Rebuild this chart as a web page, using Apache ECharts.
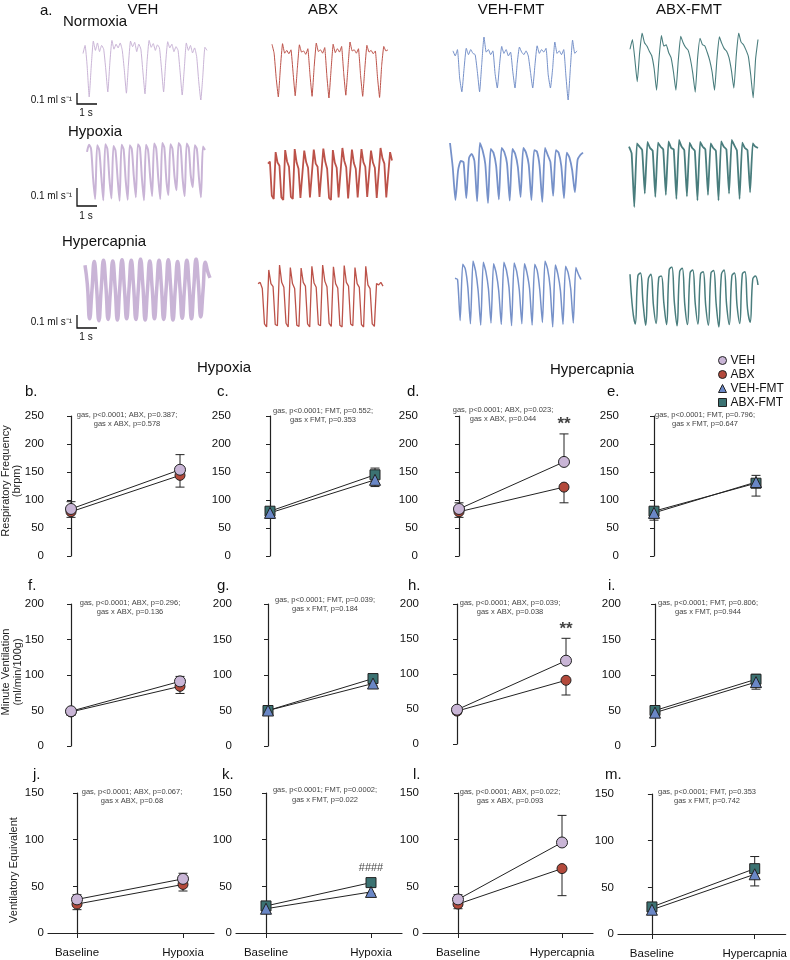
<!DOCTYPE html>
<html><head><meta charset="utf-8">
<script src="https://cdn.jsdelivr.net/npm/echarts@6/dist/echarts.min.js"></script>
<style>html,body{margin:0;padding:0;background:#fff}#c{width:790px;height:960px}</style>
</head><body><div id="c"></div>
<script>
// ---------------- DATA ----------------
const groupsAll = ['VEH', 'ABX', 'VEH-FMT', 'ABX-FMT'];
const catsHypoxia = ['Baseline', 'Hypoxia'];
const catsHypercapnia = ['Baseline', 'Hypercapnia'];
const yTicksRF = [0, 50, 100, 150, 200, 250];
const yTicksMV = [0, 50, 100, 150, 200];
const yTicksVE = [0, 50, 100, 150];

// Respiratory frequency (brpm) [Baseline, gas]; errors signed (+ up, - down)
const rfHxVEH = [84, 154],  rfHxVEHerr = [13, 27];
const rfHxABX = [79, 144],  rfHxABXerr = [-10, -21];
const rfHxVF  = [77, 136],  rfHxVFerr  = [-10, -12];
const rfHxAF  = [80, 145],  rfHxAFerr  = [7, 12];
const rfHcVEH = [84, 168],  rfHcVEHerr = [11, 50];
const rfHcABX = [79, 123],  rfHcABXerr = [-10, -28];
const rfHcVF  = [77, 132],  rfHcVFerr  = [-13, -25];
const rfHcAF  = [80, 130],  rfHcAFerr  = [7, 14];
// Minute ventilation (ml/min/100g)
const mvHxVEH = [49, 91],   mvHxVEHerr = [3, 7];
const mvHxABX = [48, 84],   mvHxABXerr = [-5, -10];
const mvHxVF  = [50, 88],   mvHxVFerr  = [-3, -3];
const mvHxAF  = [50, 95],   mvHxAFerr  = [3, 3];
const mvHcVEH = [49, 119],  mvHcVEHerr = [3, 32];
const mvHcABX = [47, 91],   mvHcABXerr = [-4, -21];
const mvHcVF  = [47, 90],   mvHcVFerr  = [-3, -10];
const mvHcAF  = [50, 94],   mvHcAFerr  = [3, 7];
// Ventilatory equivalent
const veHxVEH = [36, 58],   veHxVEHerr = [5, 6];
const veHxABX = [31, 52],   veHxABXerr = [-6, -7];
const veHxVF  = [26, 44],   veHxVFerr  = [-2, -2];
const veHxAF  = [29, 54],   veHxAFerr  = [2, 2];
const veHcVEH = [36, 97],   veHcVEHerr = [5, 29];
const veHcABX = [31, 69],   veHcABXerr = [-5, -29];
const veHcVF  = [26, 64],   veHcVFerr  = [-2, -12.5];
const veHcAF  = [29, 70],   veHcAFerr  = [2, 13];

const statTexts = [
  'gas, p<0.0001; ABX, p=0.387;\ngas x ABX, p=0.578',
  'gas, p<0.0001; FMT, p=0.552;\ngas x FMT, p=0.353',
  'gas, p<0.0001; ABX, p=0.023;\ngas x ABX, p=0.044',
  'gas, p<0.0001; FMT, p=0.796;\ngas x FMT, p=0.647',
  'gas, p<0.0001; ABX, p=0.296;\ngas x ABX, p=0.136',
  'gas, p<0.0001; FMT, p=0.039;\ngas x FMT, p=0.184',
  'gas, p<0.0001; ABX, p=0.039;\ngas x ABX, p=0.038',
  'gas, p<0.0001; FMT, p=0.806;\ngas x FMT, p=0.944',
  'gas, p<0.0001; ABX, p=0.067;\ngas x ABX, p=0.68',
  'gas, p<0.0001; FMT, p=0.0002;\ngas x FMT, p=0.022',
  'gas, p<0.0001; ABX, p=0.022;\ngas x ABX, p=0.093',
  'gas, p<0.0001; FMT, p=0.353\ngas x FMT, p=0.742'
];

// Flow traces (relative amplitude 0-100, read from the recordings)
const trNormVEH = [75,88,55,5, 55,95,80,92,78,88,82,50,13, 60,96,82,90,84,92,80,48,11, 58,95,86,93,78,90,82,45,10, 62,96,85,91,80,89,84,50,13, 60,94,84,90,78,86,80,45,8, 50,92,80,88,76,84,70,30,0, 40,85,80];
const trNormABX = [96,80,35,2, 55,97,80,85,79,86,45,4, 52,95,82,84,78,88,42,3, 56,98,83,86,80,90,40,0, 50,96,81,88,82,92,44,5, 54,100,84,86,80,88,40,3, 52,94,82,85,79,84,38,1, 58,92,84,86];
const trNormVF  = [78,70,80,35,13, 50,82,72,80,74,72,45,13, 58,100,76,80,72,78,42,19, 55,85,74,80,70,76,45,19, 58,84,76,72,78,70,44,19, 55,86,74,80,76,82,40,19, 50,92,74,78,72,80,38,0, 50,95,74,78];
const trNormAF  = [75,90,60,25, 70,100,85,80,72,65,45,12, 60,96,80,82,70,62,40,12, 58,95,85,78,74,60,38,9, 62,92,82,80,70,58,40,12, 60,94,84,76,72,62,42,15, 65,100,86,82,74,64,35,0, 60,90];
const trHypoVEH = [85, 97,90,40,5, 96,88,45,3, 98,90,40,6, 95,87,42,2, 97,89,38,4, 96,90,44,8, 98,92,40,3, 97,88,45,10, 99,91,42,5, 100,92,38,12, 98,90,44,20, 100,94,40,10, 99,92,45,25, 96,90,42,8, 94,88];
const trHypoABX = [70,74, 8,2,92,72,66, 5,0,96,74,64, 6,2,98,72,60, 4,1,95,73,62, 5,2,97,70,64, 6,3,99,74,60, 4,0,96,72,62, 5,2,100,75,63, 3,1,97,71,60, 5,2,98,73,64, 6,3,95,72,62, 4,1,100,80,70, 5,2,92,76];
const trHypoVF  = [100,60,5,55, 70,68,8,75, 82,70,3,100, 88,65,0,90, 84,62,6,92, 85,66,4,90, 82,60,10,92, 84,64,5,88, 86,62,2,92, 80,68,12,88, 84,62,8,84, 76,55,18,72, 80,84];
const trHypoAF  = [90,80,0, 95,90,85,20, 97,88,84,15, 96,90,86,18, 98,88,86,12, 100,90,85,16, 96,88,84,10, 97,90,86,18, 95,88,84,10, 98,90,86,20, 100,92,84,12, 96,88,85,22, 95,90,88];
const trHcVEH   = [90,60,5,50, 96,55,2,52, 98,58,4,50, 97,56,3,54, 99,55,5,52, 98,56,4,50, 100,58,3,52, 97,55,5,54, 98,57,4,50, 99,56,3,52, 96,55,6,54, 98,57,5,55, 100,60,8,50, 95,80,70];
const trHcABX   = [70,72,62,5,0, 92,70,65,4,2, 100,72,64,6,0, 96,70,62,3,1, 95,72,66,5,0, 98,71,64,4,2, 100,74,65,6,1, 97,70,63,3,0, 99,72,66,5,2, 96,70,64,4,0, 98,68,62,5,1, 70,68,72,66];
const trHcVF    = [74,72,10, 95,88,60,5, 100,85,55,3, 98,84,58,6, 96,82,55,4, 98,86,60,2, 97,84,56,5, 96,82,58,3, 95,85,55,7, 100,88,60,0, 94,80,55,4, 92,82,58,6, 90,80,72];
const trHcAF    = [88,30,5, 85,90,40,3, 80,88,35,6, 82,85,38,4, 95,100,40,2, 92,98,36,4, 90,95,38,5, 88,92,35,3, 90,94,38,0, 88,95,36,4, 85,90,35,6, 88,92,30,8, 80,85,70];

// ---------------- STYLE / LAYOUT ----------------
const FONT = '"Liberation Sans", Arial, Helvetica, sans-serif';
const COL = {'VEH':'#c9b5d6','ABX':'#b3493b','VEH-FMT':'#6a87c6','ABX-FMT':'#3b7272'};
const TRCOL = {'VEH':'#c6b0d4','ABX':'#b8493f','VEH-FMT':'#6f8bc6','ABX-FMT':'#3f7676'};
const SYM = {'VEH':'circle','ABX':'circle','VEH-FMT':'triangle','ABX-FMT':'rect'};
const SIZE = {'VEH':11,'ABX':10,'VEH-FMT':11,'ABX-FMT':10};

const grid=[], xAxis=[], yAxis=[], series=[], graphic=[];

function addTrace(data, box, color, lw, smooth){
  const i = grid.length;
  grid.push({left:box[0], top:box[1], width:box[2]-box[0], height:box[3]-box[1]});
  xAxis.push({type:'category', gridIndex:i, show:false, boundaryGap:false, data:data.map((_,k)=>String(k))});
  yAxis.push({type:'value', gridIndex:i, show:false, min:0, max:100, splitLine:{show:false}});
  series.push({type:'line', xAxisIndex:i, yAxisIndex:i, data:data, symbol:'none', silent:true, smooth:smooth||false,
    lineStyle:{color:color, width:lw, opacity:0.95}});
}

const traceRows = [
  {data:[trNormVEH, trNormABX, trNormVF, trNormAF],
   boxes:[[83,38,207,100],[272,42,388,98],[453,37,577,100],[630,33,758,98]], lw:[1,1,1,1.1], sm:[0.15,0.1,0.15,0.15]},
  {data:[trHypoVEH, trHypoABX, trHypoVF, trHypoAF],
   boxes:[[87,143,205,202],[268,148,392,200],[450,143,583,203],[629,140,758,207]], lw:[2,1.8,1.8,1.8], sm:[0.25,0,0.2,0.1]},
  {data:[trHcVEH, trHcABX, trHcVF, trHcAF],
   boxes:[[85,259,210,322],[258,265,383,327],[455,261,581,327],[630,267,758,327]], lw:[3.5,1.3,1.5,1.5], sm:[0.5,0,0.2,0.4]}
];
traceRows.forEach(r => r.data.forEach((d,k) => addTrace(d, r.boxes[k], TRCOL[groupsAll[k]], r.lw[k], r.sm[k])));

function errRender(params, api){
  const p0 = api.coord([api.value(0), api.value(1)]);
  const p1 = api.coord([api.value(0), api.value(2)]);
  return {type:'group', children:[
    {type:'line', shape:{x1:p0[0],y1:p0[1],x2:p1[0],y2:p1[1]}, style:{stroke:'#222',lineWidth:1}},
    {type:'line', shape:{x1:p1[0]-4.5,y1:p1[1],x2:p1[0]+4.5,y2:p1[1]}, style:{stroke:'#222',lineWidth:1}}
  ]};
}

function addPanel(p){
  const i = grid.length;
  const span = p.hyp - p.base;
  const xmin = -(p.base - p.axisX)/span;
  const xmax = 1 + 31/span;
  const ticks = p.ticks;
  const ymax = ticks[ticks.length-1];
  grid.push({left:p.axisX, top:p.top, width:(xmax-xmin)*span, height:p.height});
  xAxis.push({type:'value', gridIndex:i, min:xmin, max:xmax, show:p.showX,
    axisLine:{show:true, onZero:false, lineStyle:{color:'#222', width:1.2}},
    axisTick:{show:true, customValues:[0,1], length:5, lineStyle:{color:'#222'}},
    axisLabel:{show:true, customValues:[0,1], formatter:(v)=>p.cats[Math.round(v)], fontSize:11.5, color:'#111', margin:14, fontFamily:FONT},
    splitLine:{show:false}});
  yAxis.push({type:'value', gridIndex:i, min:0, max:ymax, interval:50,
    axisLine:{show:true, lineStyle:{color:'#222', width:1.2}},
    axisTick:{show:true, length:4, lineStyle:{color:'#222'}},
    axisLabel:{fontSize:11.5, color:'#111', margin:4, fontFamily:FONT},
    splitLine:{show:false}});
  p.groups.forEach(g => {
    series.push({type:'custom', xAxisIndex:i, yAxisIndex:i, silent:true, z:2,
      encode:{x:0, y:[1,2]},
      data:g.mean.map((m,k)=>[k, m, m + g.err[k]]), renderItem:errRender});
    series.push({type:'line', name:g.name, xAxisIndex:i, yAxisIndex:i, z:3, silent:true,
      data:g.mean.map((m,k)=>[k, m]), symbol:SYM[g.name], symbolSize:SIZE[g.name],
      itemStyle:{color:COL[g.name], borderColor:'#222', borderWidth:1},
      lineStyle:{color:'#222', width:1}});
  });
  if (p.mark){
    series.push({type:'scatter', xAxisIndex:i, yAxisIndex:i, z:4, silent:true, symbolSize:0,
      data:[[1, p.mark.at]],
      label:{show:true, formatter:p.mark.text, position:'top', distance:p.mark.dist,
        fontSize:p.mark.size, fontWeight:p.mark.weight, color:'#111', fontFamily:FONT}});
  }
}

const panels = [
  // row 1: respiratory frequency
  {axisX:48,  base:71,  hyp:180, top:416, height:140, ticks:yTicksRF, cats:catsHypoxia, showX:false,
    groups:[{name:'ABX',mean:rfHxABX,err:rfHxABXerr},{name:'VEH',mean:rfHxVEH,err:rfHxVEHerr}]},
  {axisX:235, base:270, hyp:375, top:416, height:140, ticks:yTicksRF, cats:catsHypoxia, showX:false,
    groups:[{name:'ABX-FMT',mean:rfHxAF,err:rfHxAFerr},{name:'VEH-FMT',mean:rfHxVF,err:rfHxVFerr}]},
  {axisX:422, base:459, hyp:564, top:416, height:140, ticks:yTicksRF, cats:catsHypercapnia, showX:false,
    groups:[{name:'ABX',mean:rfHcABX,err:rfHcABXerr},{name:'VEH',mean:rfHcVEH,err:rfHcVEHerr}],
    mark:{text:'**', at:rfHcVEH[1]+rfHcVEHerr[1], dist:1, size:17, weight:'bold'}},
  {axisX:623, base:654, hyp:756, top:416, height:140, ticks:yTicksRF, cats:catsHypercapnia, showX:false,
    groups:[{name:'ABX-FMT',mean:rfHcAF,err:rfHcAFerr},{name:'VEH-FMT',mean:rfHcVF,err:rfHcVFerr}]},
  // row 2: minute ventilation
  {axisX:48,  base:71,  hyp:180, top:604, height:142, ticks:yTicksMV, cats:catsHypoxia, showX:false,
    groups:[{name:'ABX',mean:mvHxABX,err:mvHxABXerr},{name:'VEH',mean:mvHxVEH,err:mvHxVEHerr}]},
  {axisX:236, base:268, hyp:373, top:604, height:142, ticks:yTicksMV, cats:catsHypoxia, showX:false,
    groups:[{name:'ABX-FMT',mean:mvHxAF,err:mvHxAFerr},{name:'VEH-FMT',mean:mvHxVF,err:mvHxVFerr}]},
  {axisX:423, base:457, hyp:566, top:604, height:140, ticks:yTicksMV, cats:catsHypercapnia, showX:false,
    groups:[{name:'ABX',mean:mvHcABX,err:mvHcABXerr},{name:'VEH',mean:mvHcVEH,err:mvHcVEHerr}],
    mark:{text:'**', at:mvHcVEH[1]+mvHcVEHerr[1], dist:0, size:17, weight:'bold'}},
  {axisX:625, base:655, hyp:756, top:604, height:142, ticks:yTicksMV, cats:catsHypercapnia, showX:false,
    groups:[{name:'ABX-FMT',mean:mvHcAF,err:mvHcAFerr},{name:'VEH-FMT',mean:mvHcVF,err:mvHcVFerr}]},
  // row 3: ventilatory equivalent
  {axisX:48,  base:77,  hyp:183, top:793, height:140, ticks:yTicksVE, cats:catsHypoxia, showX:true,
    groups:[{name:'ABX',mean:veHxABX,err:veHxABXerr},{name:'VEH',mean:veHxVEH,err:veHxVEHerr}]},
  {axisX:236, base:266, hyp:371, top:793, height:140, ticks:yTicksVE, cats:catsHypoxia, showX:true,
    groups:[{name:'ABX-FMT',mean:veHxAF,err:veHxAFerr},{name:'VEH-FMT',mean:veHxVF,err:veHxVFerr}],
    mark:{text:'####', at:veHxAF[1], dist:9, size:11, weight:'normal'}},
  {axisX:423, base:458, hyp:562, top:793, height:140, ticks:yTicksVE, cats:catsHypercapnia, showX:true,
    groups:[{name:'ABX',mean:veHcABX,err:veHcABXerr},{name:'VEH',mean:veHcVEH,err:veHcVEHerr}]},
  {axisX:618, base:652, hyp:755, top:794, height:140, ticks:yTicksVE, cats:catsHypercapnia, showX:true,
    groups:[{name:'ABX-FMT',mean:veHcAF,err:veHcAFerr},{name:'VEH-FMT',mean:veHcVF,err:veHcVFerr}]}
];
panels.forEach(addPanel);

// ---------------- TEXT ----------------
function txt(text, x, y, size, opts){
  opts = opts || {};
  const align = opts.align || 'left';
  const valign = opts.valign || 'middle';
  graphic.push({type:'text', x:x, y:y, rotation:opts.rot||0, silent:true, z:10,
    style:{text:text, fill:opts.color||'#111', fontSize:size, fontFamily:FONT, fontWeight:opts.weight||'normal',
      align:align, textAlign:align, verticalAlign:valign, textVerticalAlign:valign, lineHeight:opts.lh||size*1.2}});
}
txt('a.', 40, 11, 15);
txt('VEH', 143, 10, 15, {align:'center'});
txt('ABX', 323, 10, 15, {align:'center'});
txt('VEH-FMT', 511, 10, 15, {align:'center'});
txt('ABX-FMT', 689, 10, 15, {align:'center'});
txt('Normoxia', 63, 22, 15);
txt('Hypoxia', 68, 132, 15);
txt('Hypercapnia', 62, 242, 15);

// scale bars
[[93,104,100,113],[188,206,196,216],[315,328,322,337]].forEach(s => {
  graphic.push({type:'polyline', silent:true, shape:{points:[[77,s[0]],[77,s[1]],[97,s[1]]]}, style:{stroke:'#111', lineWidth:1.3, fill:null}});
  txt('0.1 ml s\u207B\u00B9', 72, s[2], 10, {align:'right'});
  txt('1 s', 86, s[3], 10, {align:'center'});
});

txt('Hypoxia', 224, 368, 15, {align:'center'});
txt('Hypercapnia', 592, 370, 15, {align:'center'});

const letters = [['b.',25,392],['c.',217,392],['d.',407,392],['e.',607,392],
  ['f.',28,586],['g.',217,586],['h.',408,586],['i.',608,586],
  ['j.',33,775],['k.',222,775],['l.',413,775],['m.',605,775]];
letters.forEach(l => txt(l[0], l[1], l[2], 15));

const statPos = [[127,419.5],[323,415.5],[503,414.5],[705,419.5],
  [130,607.5],[325,604.5],[510,607.5],[708,607.5],
  [132,796.5],[325,795],[510,796.5],[707,796.5]];
statTexts.forEach((t,k) => txt(t, statPos[k][0], statPos[k][1], 7.5, {align:'center', color:'#444', lh:9.5}));

txt('Respiratory Frequency\n(brpm)', 11, 481, 11, {align:'center', rot:Math.PI/2, color:'#222', lh:11});
txt('Minute Ventilation\n(ml/min/100g)', 12, 672, 11, {align:'center', rot:Math.PI/2, color:'#222', lh:12});
txt('Ventilatory Equivalent', 14, 870, 11, {align:'center', rot:Math.PI/2, color:'#222'});

const option = {
  animation:false,
  backgroundColor:'#fff',
  grid, xAxis, yAxis, series, graphic,
  legend:{
    data:[{name:'VEH',icon:'circle'},{name:'ABX',icon:'circle'},{name:'VEH-FMT',icon:'triangle'},{name:'ABX-FMT',icon:'rect'}],
    orient:'vertical', left:713, top:349, itemWidth:8, itemHeight:8, itemGap:1,
    selectedMode:false,
    itemStyle:{borderColor:'#222', borderWidth:1},
    textStyle:{fontSize:12, color:'#111', fontFamily:FONT, lineHeight:13, padding:[0,0,0,-1]}
  }
};
const chart = echarts.init(document.getElementById('c'), null, {renderer:'canvas', width:790, height:960});
chart.setOption(option);
</script></body></html>
